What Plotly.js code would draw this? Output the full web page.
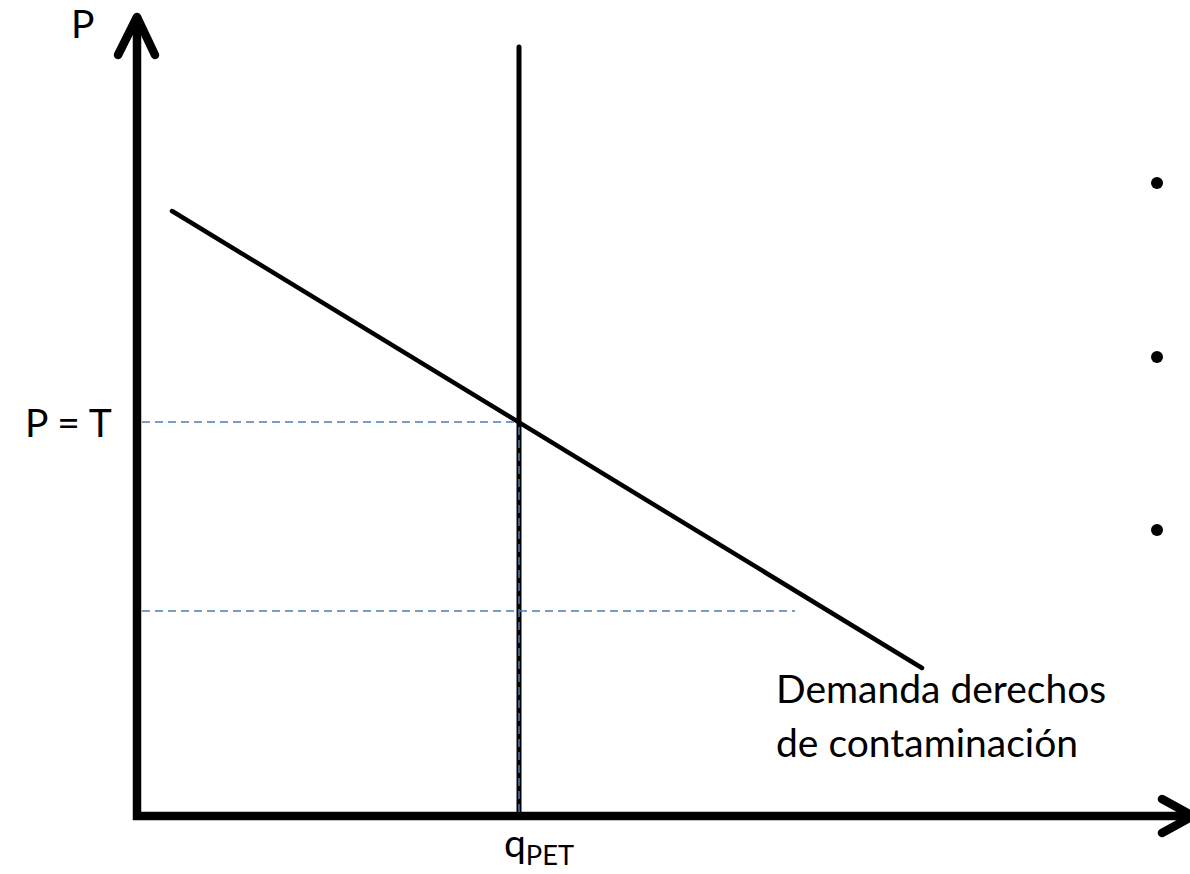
<!DOCTYPE html>
<html>
<head>
<meta charset="utf-8">
<script src="https://cdn.plot.ly/plotly-3.0.1.min.js"></script>
<style>
html,body{margin:0;padding:0;background:#fff;}
#chart{width:1190px;height:874px;}
path.js-line:not([style*="dasharray"]){stroke-linecap:round;}
</style>
</head>
<body>
<div id="chart"></div>
<script>
// Values in chart units (origin at the axes corner)
var axisCornerX = [0, 0, 10.56];
var axisCornerY = [7.99, 0, 0];
var yArrowX = [-0.19, 0, 0.18];
var yArrowY = [7.61, 7.99, 7.61];
var xArrowX = [10.25, 10.56, 10.25];
var xArrowY = [0.17, 0, -0.17];

var qPET = 3.82;
var capTop = 7.69;
var priceT = 3.94;
var priceLow = 2.05;
var lowLineEnd = 6.58;

var demandQ = [0.35, 7.85];
var demandP = [6.05, 1.48];

var bulletX = [10.20, 10.20, 10.20];
var bulletY = [6.33, 4.59, 2.86];

var labelP = "P";
var labelPT = "P = T";
var labelQ = "q<sub>PET</sub>";
var labelDemand1 = "Demanda derechos";
var labelDemand2 = "de contaminación";

var blue = "#4a7ebb";
var fontFam = "Lato, 'Open Sans', sans-serif";

var traces = [
  {x: axisCornerX, y: axisCornerY, mode: "lines", line: {color: "#000", width: 8.5}},
  {x: yArrowX, y: yArrowY, mode: "lines", line: {color: "#000", width: 8.5}},
  {x: xArrowX, y: xArrowY, mode: "lines", line: {color: "#000", width: 8.5}},
  {x: [qPET, qPET], y: [0, capTop], mode: "lines", line: {color: "#000", width: 5}},
  {x: demandQ, y: demandP, mode: "lines", line: {color: "#000", width: 4.5}},
  {x: [0.05, qPET], y: [priceT, priceT], mode: "lines", line: {color: blue, width: 1.5, dash: "8px,5px"}},
  {x: [0.05, lowLineEnd], y: [priceLow, priceLow], mode: "lines", line: {color: blue, width: 1.5, dash: "8px,5px"}},
  {x: [qPET, qPET], y: [0.04, priceT], mode: "lines", line: {color: blue, width: 1.5, dash: "8px,5px"}},
  {x: bulletX, y: bulletY, mode: "markers", marker: {color: "#000", size: 12}}
];

var tf = {family: fontFam, size: 39, color: "#000"};
var layout = {
  width: 1190, height: 874,
  margin: {l: 0, r: 0, t: 0, b: 0},
  paper_bgcolor: "#fff", plot_bgcolor: "#fff",
  showlegend: false,
  hovermode: false,
  xaxis: {range: [-1.37, 10.53], visible: false, fixedrange: true},
  yaxis: {range: [-0.58, 8.16], visible: false, fixedrange: true},
  annotations: [
    {x: -0.55, y: 7.93, xref: "x", yref: "y", text: labelP, showarrow: false, font: tf, xanchor: "center", yanchor: "middle"},
    {x: -0.69, y: priceT, xref: "x", yref: "y", text: labelPT, showarrow: false, font: tf, xanchor: "center", yanchor: "middle"},
    {x: 4.02, y: -0.29, xref: "x", yref: "y", text: labelQ, showarrow: false, font: tf, xanchor: "center", yanchor: "middle"},
    {x: 6.37, y: 1.28, xref: "x", yref: "y", text: labelDemand1, showarrow: false, font: tf, xanchor: "left", yanchor: "middle"},
    {x: 6.37, y: 0.74, xref: "x", yref: "y", text: labelDemand2, showarrow: false, font: tf, xanchor: "left", yanchor: "middle"}
  ]
};

Plotly.newPlot("chart", traces, layout, {staticPlot: true, displayModeBar: false});
</script>
</body>
</html>
